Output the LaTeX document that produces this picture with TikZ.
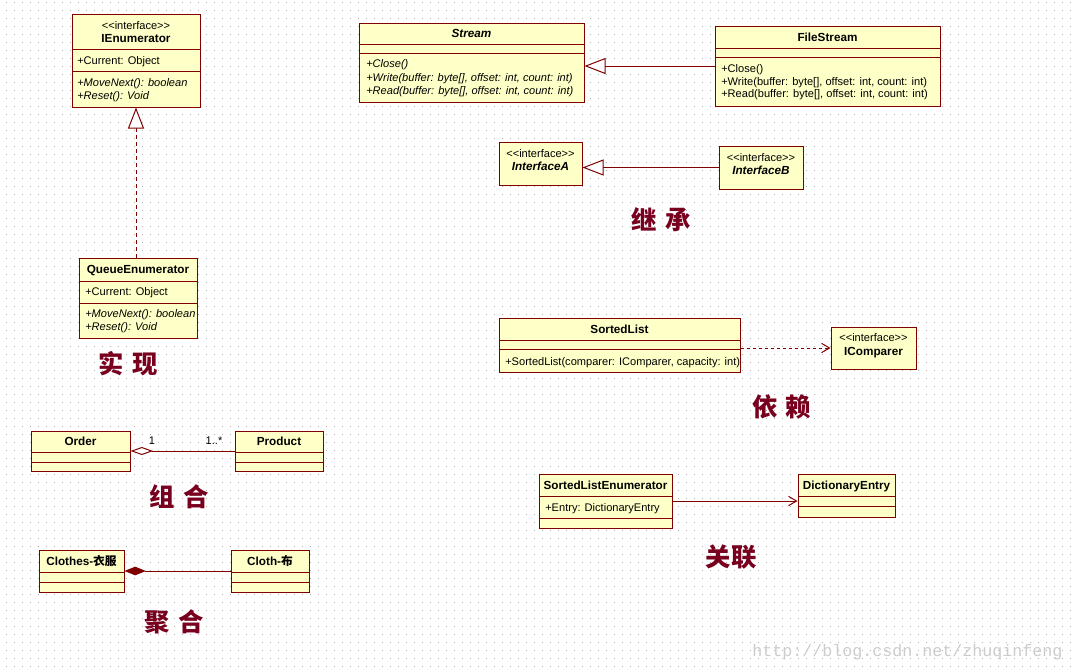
\documentclass[tikz,border=0pt]{standalone}
\usepackage{fontspec}
\setmainfont{Liberation Sans}
\newfontfamily\cjk{Noto Sans CJK SC}
\newfontfamily\wmfont{Liberation Mono}
\usetikzlibrary{arrows.meta,calc,fit}

\definecolor{umlline}{RGB}{128,0,0}
\definecolor{umlfill}{RGB}{255,255,200}
\definecolor{umltitle}{RGB}{120,0,30}
\definecolor{griddot}{RGB}{175,175,175}

\newcommand\umlclass[6]{%
  \node[classbox,fit={(#2,#3)(#4,#5)}] (#1) {};
  \foreach \s in {#6} \draw[umlline,line width=0.75pt] (#2,\s) -- (#4,\s);
}
\newcommand\iface{{<}{<}interface{>}{>}}

\begin{document}
\begin{tikzpicture}[x=0.75pt,y=-0.75pt,
  classbox/.style={draw=umlline,fill=umlfill,line width=0.75pt,inner sep=0pt},
  member/.style={anchor=west,inner sep=0pt,text height=6pt,text depth=0pt,font=\fontsize{8.3}{10}\selectfont},
  stereo/.style={member,anchor=center},
  cname/.style={member,anchor=center,font=\fontsize{8.8}{10}\selectfont\bfseries},
  kind/.style={text=umltitle,inner sep=0pt,font=\fontsize{19}{21}\selectfont\cjk\bfseries},
  link/.style={draw=umlline,line width=0.75pt},
  realize/.style={link,dash pattern=on 3pt off 2.25pt,-{Triangle[fill=white,length=15.75pt,width=12pt]}},
  inherit/.style={link,-{Triangle[fill=white,length=15.75pt,width=12pt]}},
  depend/.style={link,dash pattern=on 2.25pt off 2.25pt,-{Straight Barb[length=6pt,width=7pt]}},
  assoc/.style={link,-{Straight Barb[length=6pt,width=7pt]}},
  aggregate/.style={link,{Diamond[fill=white,length=17pt,width=6pt]}-},
  compose/.style={link,{Diamond[fill=umlline,length=16pt,width=6.5pt]}-}]

\useasboundingbox (0,0) rectangle (1074,671);
\fill[white] (0,0) rectangle (1074,671);
\foreach \j in {0,...,83}
  \draw[griddot,line width=0.75pt,dash pattern=on 0.75pt off 5.25pt] (6.2,2.5+8*\j) -- (1074,2.5+8*\j);

\umlclass{ienum}{72}{14}{200}{107}{49,71}
\node[stereo] (ienum-s) at (136,25) {\iface};
\node[cname] (ienum-n) at (136,38) {IEnumerator};
\node[member] (ienum-a) at (77,60) {+Current: Object};
\node[member] (ienum-m1) at (77,82) {\itshape +MoveNext(): boolean};
\node[member] (ienum-m2) at (77,95) {\itshape +Reset(): Void};

\umlclass{queue}{79}{258}{197}{338}{281,303}
\node[cname] (queue-n) at (138,269) {QueueEnumerator};
\node[member] (queue-a) at (85,291) {+Current: Object};
\node[member] (queue-m1) at (85,313) {\itshape +MoveNext(): boolean};
\node[member] (queue-m2) at (85,326) {\itshape +Reset(): Void};

\umlclass{stream}{359}{23}{584}{102}{44,53}
\node[cname] (stream-n) at (471.5,33) {\itshape Stream};
\node[member] (stream-m1) at (366,63) {\itshape +Close()};
\node[member] (stream-m2) at (366,77) {\itshape +Write(buffer: byte[], offset: int, count: int)};
\node[member] (stream-m3) at (366,90) {\itshape +Read(buffer: byte[], offset: int, count: int)};

\umlclass{fstream}{715}{26}{940}{106}{48,57}
\node[cname] (fstream-n) at (827.5,37) {FileStream};
\node[member] (fstream-m1) at (721,68) {+Close()};
\node[member] (fstream-m2) at (721,81) {+Write(buffer: byte[], offset: int, count: int)};
\node[member] (fstream-m3) at (721,93) {+Read(buffer: byte[], offset: int, count: int)};

\node[classbox,fit={(499,142)(582,185)}] (ifa) {};
\node[stereo] (ifa-s) at (540.5,153) {\iface};
\node[cname] (ifa-n) at (540.5,166) {\itshape InterfaceA};

\node[classbox,fit={(719,146)(803,189)}] (ifb) {};
\node[stereo] (ifb-s) at (761,157) {\iface};
\node[cname] (ifb-n) at (761,170) {\itshape InterfaceB};

\umlclass{slist}{499}{318}{740}{372}{340,349}
\node[cname] (slist-n) at (619.5,329) {SortedList};
\node[member] (slist-m) at (505,361) {+SortedList(comparer: IComparer, capacity: int)};

\node[classbox,fit={(831,327)(916,369)}] (icomp) {};
\node[stereo] (icomp-s) at (873.5,337) {\iface};
\node[cname] (icomp-n) at (873.5,351) {IComparer};

\umlclass{order}{31}{431}{130}{471}{452,462}
\node[cname] (order-n) at (80.5,441) {Order};
\umlclass{product}{235}{431}{323}{471}{452,462}
\node[cname] (product-n) at (279,441) {Product};

\umlclass{clothes}{39}{550}{124}{592}{572,582}
\node[cname] (clothes-n) at (81.5,561) {Clothes-{\cjk 衣服}};
\umlclass{cloth}{231}{550}{309}{592}{572,582}
\node[cname] (cloth-n) at (270,561) {Cloth-{\cjk 布}};

\umlclass{slenum}{539}{474}{672}{528}{496,518}
\node[cname] (slenum-n) at (605.5,485) {SortedListEnumerator};
\node[member] (slenum-a) at (545,507) {+Entry: DictionaryEntry};

\umlclass{dentry}{798}{474}{895}{517}{496,506}
\node[cname] (dentry-n) at (846.5,485) {DictionaryEntry};

\draw[realize] (queue.north -| ienum.south) -- (ienum.south);
\draw[inherit] (fstream.west) -- (fstream.west -| stream.east);
\draw[inherit] (ifb.west) -- (ifb.west -| ifa.east);
\draw[depend] (slist.east |- icomp.west) -- (icomp.west);
\draw[aggregate] (order.east) -- (product.west);
\node[stereo] (mult-a) at (152,440) {1};
\node[stereo] (mult-b) at (214,440) {1..*};
\draw[compose] (clothes.east) -- (cloth.west);
\draw[assoc] (slenum.east) -- (slenum.east -| dentry.west);

\node[kind] (kind-real) at (128,364) {实\hspace{0.35em}现};
\node[kind] (kind-inh) at (661,220) {继\hspace{0.35em}承};
\node[kind] (kind-dep) at (782,407) {依\hspace{0.3em}赖};
\node[kind] (kind-agg) at (179,497) {组\hspace{0.35em}合};
\node[kind] (kind-com) at (174,622) {聚\hspace{0.35em}合};
\node[kind] (kind-ass) at (731,557) {关联};

\node[text=black!20,inner sep=0pt,font=\fontsize{12.5}{14}\selectfont\wmfont] (wm) at (907.5,652) {http://blog.csdn.net/zhuqinfeng};
\end{tikzpicture}
\end{document}
